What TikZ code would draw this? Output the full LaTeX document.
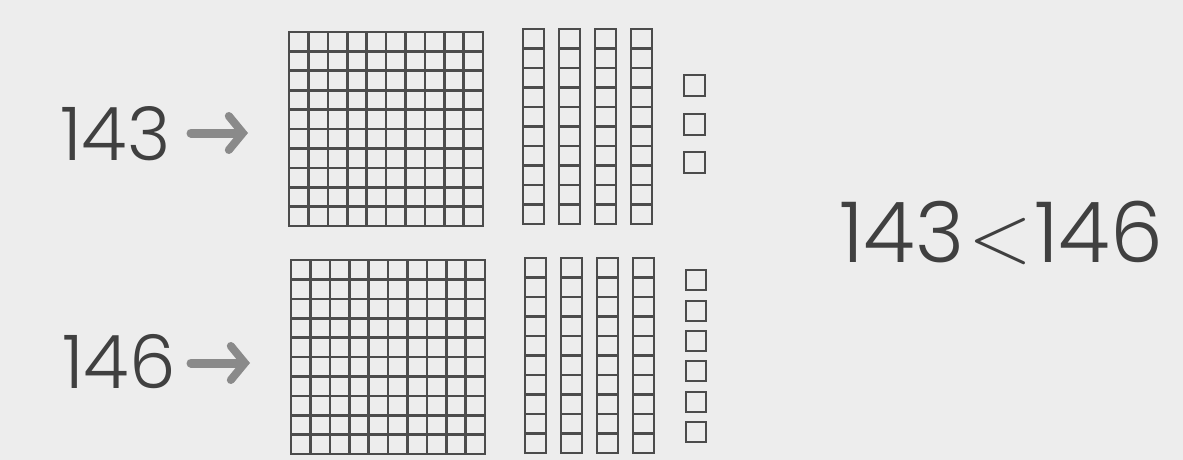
\documentclass[tikz,border=0pt]{standalone}
\usepackage{fontspec}
\setmainfont{Poppins Light}
\newfontfamily\lmfont{Latin Modern Roman}
\usetikzlibrary{arrows.meta}
\definecolor{bg}{HTML}{EDEDED}
\definecolor{ink}{HTML}{4C4C4C}
\definecolor{txt}{HTML}{404040}
\definecolor{arr}{HTML}{8A8A8A}
\tikzset{
  gridline/.style={draw=ink, line width=2.6pt},
  unitsq/.style={draw=ink, line width=2.6pt},
  num/.style={inner sep=0pt, text=txt, font=\fontsize{74}{74}\selectfont},
  cmp/.style={inner sep=0pt, text=txt, font=\fontsize{84}{84}\selectfont},
  fatarrow/.style={draw=arr, line width=9pt, line cap=round,
    -{Straight Barb[length=14pt, width=34pt, line width=8pt, line cap=round]}}
}
\begin{document}
\begin{tikzpicture}[x=1pt, y=-1pt]
\fill[bg] (0,0) rectangle (1183,460);
\useasboundingbox (0,0) rectangle (1183,460);

% hundreds squares
\foreach \ox/\oy in {289/32, 291/260}{
  \draw[gridline] (\ox,\oy) rectangle ++(194,194);
  \foreach \i in {1,...,9}{
    \draw[gridline] (\ox+\i*19.4,\oy) -- ++(0,194);
    \draw[gridline] (\ox,\oy+\i*19.4) -- ++(194,0);
  }
}

% tens rods
\foreach \ox/\oy in {523/29, 559/29, 595/29, 631/29, 525/258, 561/258, 597/258, 633/258}{
  \draw[gridline] (\ox,\oy) rectangle ++(21,195);
  \foreach \i in {1,...,9}{
    \draw[gridline] (\ox,\oy+\i*19.5) -- ++(21,0);
  }
}

% ones
\foreach \y in {75,114,152}{
  \draw[unitsq] (684,\y) rectangle ++(21,21);
}
\foreach \y in {270,301,331,361,392,422}{
  \draw[unitsq] (686,\y) rectangle ++(20,20);
}

% labels
\node[num, anchor=base west] (a) at (60,160) {143};
\node[num, anchor=base west] (b) at (62,388) {146};
\coordinate (sa) at (191,133);
\coordinate (ea) at (248,133);
\coordinate (sb) at (191,363);
\coordinate (eb) at (250,363);
\draw[fatarrow] (sa) -- (ea);
\draw[fatarrow] (sb) -- (eb);

\node[cmp, anchor=base west] (c) at (839,262) {143\hspace{4pt}{\lmfont\fontsize{84}{84}\selectfont <}\hspace{2pt}146};
\end{tikzpicture}
\end{document}
